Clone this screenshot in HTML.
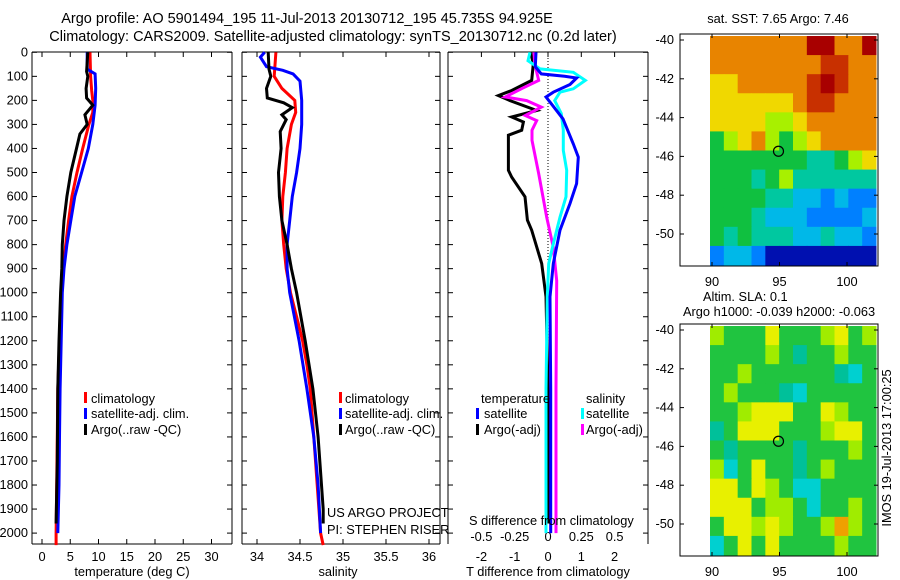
<!DOCTYPE html>
<html><head><meta charset="utf-8">
<style>
html,body{margin:0;padding:0;background:#fff;}
svg{display:block;font-family:"Liberation Sans",sans-serif;}
text{font-size:12.8px;fill:#000;}
</style></head>
<body>
<svg id="fig" width="900" height="580" viewBox="0 0 900 580" xmlns="http://www.w3.org/2000/svg">
<text x="307" y="23" text-anchor="middle" style="font-size:14.5px">Argo profile: AO 5901494_195 11-Jul-2013 20130712_195 45.735S 94.925E</text>
<text x="333" y="41" text-anchor="middle" style="font-size:14.5px">Climatology: CARS2009. Satellite-adjusted climatology: synTS_20130712.nc (0.2d later)</text>
<g id="g1"></g>
<g id="g2"></g>
<g id="g3"></g>
<g id="m1"></g>
<g id="m2"></g>

<g>
<rect x="84" y="392" width="3" height="11" fill="#f00"/><text x="91" y="403">climatology</text>
<rect x="84" y="408" width="3" height="11" fill="#00f"/><text x="91" y="418">satellite-adj. clim.</text>
<rect x="84" y="424" width="3" height="11" fill="#000"/><text x="91" y="434">Argo(..raw -QC)</text>
</g>
<g>
<rect x="339" y="392" width="3" height="11" fill="#f00"/><text x="345" y="403">climatology</text>
<rect x="339" y="408" width="3" height="11" fill="#00f"/><text x="345" y="418">satellite-adj. clim.</text>
<rect x="339" y="424" width="3" height="11" fill="#000"/><text x="345" y="434">Argo(..raw -QC)</text>
</g>
<g>
<text x="481" y="403">temperature</text>
<rect x="476" y="408" width="3" height="11" fill="#00f"/><text x="484" y="418">satellite</text>
<rect x="476" y="424" width="3" height="11" fill="#000"/><text x="484" y="434">Argo(-adj)</text>
<text x="586" y="403">salinity</text>
<rect x="581" y="408" width="3" height="11" fill="#0ff"/><text x="586" y="418">satellite</text>
<rect x="581" y="424" width="3" height="11" fill="#f0f"/><text x="586" y="434">Argo(-adj)</text>
</g>
<text x="327" y="517">US ARGO PROJECT</text>
<text x="327" y="534">PI: STEPHEN RISER</text>
<text x="469" y="525">S difference from climatology</text>
<text x="132" y="576" text-anchor="middle">temperature (deg C)</text>
<text x="338" y="576" text-anchor="middle">salinity</text>
<text x="548" y="576" text-anchor="middle">T difference from climatology</text>
<text x="778" y="23" text-anchor="middle">sat. SST: 7.65 Argo: 7.46</text>
<text x="703" y="301">Altim. SLA: 0.1</text>
<text x="683" y="316">Argo h1000: -0.039 h2000: -0.063</text>
<text transform="translate(891,448) rotate(-90)" text-anchor="middle">IMOS 19-Jul-2013 17:00:25</text>
</svg>
<script>
// ---- data ----
const depthTicks = [0,100,200,300,400,500,600,700,800,900,1000,1100,1200,1300,1400,1500,1600,1700,1800,1900,2000];
const tempTicks = [0,5,10,15,20,25,30];
const salTicks = [34,34.5,35,35.5,36];
const salTickLabels = ["34","34.5","35","35.5","36"];
const tdiffTicks = [-2,-1,0,1,2];
const sdiffTicks = [-0.5,-0.25,0,0.25,0.5];
const sdiffTickLabels = ["-0.5","-0.25","0","0.25","0.5"];

const climTDepth = [0,100,160,200,250,300,400,500,600,700,800,900,1000,1200,1400,1600,1800,2000,2050];
const climT = [8.5,8.6,8.8,9.0,9.0,8.3,7.2,6.2,5.3,4.7,4.2,3.8,3.5,3.1,2.8,2.7,2.6,2.5,2.5];
const satTDepth = [0,70,90,150,220,300,400,500,600,700,800,900,1000,1200,1400,1600,1800,2000];
const satT = [8.0,8.0,9.4,9.5,9.4,9.0,8.2,7.0,5.8,5.1,4.4,3.9,3.6,3.4,3.2,3.1,3.0,2.8];
const argoTDepth = [0,80,100,150,190,220,260,300,340,400,500,600,700,800,900,1000,1200,1400,1700,1960];
const argoT = [8.1,7.9,8.1,7.8,7.9,9.0,7.6,8.0,6.7,6.1,5.1,4.4,3.9,3.6,3.5,3.3,3.0,2.8,2.7,2.5];

const climSDepth = [0,100,150,200,250,300,400,500,600,700,800,900,1000,1100,1200,1300,1400,1600,1800,2000,2050];
const climS = [34.22,34.20,34.29,34.44,34.45,34.40,34.35,34.33,34.30,34.29,34.31,34.34,34.39,34.46,34.53,34.58,34.62,34.66,34.70,34.74,34.77];
const satSDepth = [0,20,60,75,90,120,200,300,400,500,600,700,800,900,1000,1200,1400,1600,1800,2000];
const satS = [34.09,34.04,34.11,34.30,34.42,34.50,34.52,34.52,34.50,34.46,34.41,34.38,34.35,34.35,34.38,34.49,34.58,34.66,34.71,34.74];
const argoSDepth = [0,70,100,150,190,210,230,260,280,330,400,500,600,700,800,900,1000,1200,1400,1600,1900,1960];
const argoS = [34.13,34.14,34.16,34.11,34.12,34.31,34.41,34.29,34.34,34.27,34.28,34.25,34.26,34.29,34.35,34.40,34.46,34.56,34.65,34.71,34.77,34.77];

const dTsatDepth = [0,60,90,100,107,134,166,186,207,277,381,436,546,629,740,879,1017,1400,1800,2000];
const dTsat = [-0.36,-0.38,-0.2,0.5,0.86,0.66,0.16,-0.06,0.06,0.45,0.76,0.91,0.86,0.66,0.36,0.16,0.06,0.08,0.08,0.08];
const dTargoDepth = [0,48,117,159,180,201,242,269,290,324,345,491,519,601,698,740,879,1017,1400,1960];
const dTargo = [-0.52,-0.44,-0.49,-1.09,-1.49,-1.14,-0.34,-1.09,-0.74,-0.79,-1.19,-1.19,-1.09,-0.69,-0.62,-0.49,-0.19,-0.06,0,0];
const dSargoDepth = [0,48,117,152,186,201,228,263,284,324,366,505,686,811,950,1400,2000];
const dSargo = [-0.105,-0.1,-0.07,-0.2,-0.32,-0.16,-0.05,-0.17,-0.085,-0.12,-0.12,-0.07,-0.01,0.04,0.065,0.06,0.06];
const dSsatDepth = [0,35,69,83,117,152,166,201,255,324,408,491,601,686,797,879,1017,1400,2000];
const dSsat = [-0.135,-0.15,-0.06,0.19,0.28,0.19,0.09,0.05,0.10,0.115,0.115,0.14,0.135,0.09,0.04,0.005,-0.005,-0.015,-0.015];

const latTicks = [-40,-42,-44,-46,-48,-50];
const lonTicks = [90,95,100];
const argoLon = 94.925, argoLat = -45.735;
const sstRows = [
"OOOOOOODDOOD","OOOOOOOORROO","YYOOOOORDROO","YYYYYYORROOO","YYYYLLYOOOOO","GLYOLGLYOOOO",
"GGGGGGGTTGLY","GGGTGLTTTTTT","GGGGTTCCBCBB","GGGTCCCBBBBC","GTGTTTCCTCCB","BCCBNNNNNNNN"];
const slaRows = [
"LGGGYGGGLYGL","GGGGLGTGGLGG","GGLGGGGGGTCG","GLGGGTCGGGGG","GGLYYYGGYLGG","TGYYYGGGLYYG",
"GTGGGGTGGGLG","LCGYGGTGLGGG","YYGYLGCCGGGG","YYYGLLGCGGLG","GYYLYLGGLOLG","CGYGYGGGGLGG"];

// ---- helpers ----
const NS="http://www.w3.org/2000/svg";
function mk(parent,tag,attrs){const e=document.createElementNS(NS,tag);for(const k in attrs)e.setAttribute(k,attrs[k]);parent.appendChild(e);return e;}
const yD = d => 52.3 + d*0.2404;
const xT = v => 42 + 5.65*v;
const xS = v => 257 + 86*(v-34);
const xDT = v => 548 + 33.3*v;
const xDS = v => 548 + 133.3*v;
const TOP=52, BOT=544;

function panel(g,x0,x1,bottomLine){
  mk(g,'line',{x1:x0,y1:TOP,x2:x1,y2:TOP,stroke:'#000'});
  mk(g,'line',{x1:x0,y1:TOP,x2:x0,y2:BOT,stroke:'#000'});
  mk(g,'line',{x1:x1,y1:TOP,x2:x1,y2:BOT,stroke:'#000'});
  if(bottomLine) mk(g,'line',{x1:x0,y1:BOT,x2:x1,y2:BOT,stroke:'#000'});
  depthTicks.forEach(d=>{
    mk(g,'line',{x1:x0,y1:yD(d),x2:x0+5,y2:yD(d),stroke:'#000'});
    mk(g,'line',{x1:x1,y1:yD(d),x2:x1-5,y2:yD(d),stroke:'#000'});
  });
}
function series(g,depths,vals,xf,color,name){
  const pts=depths.map((d,i)=>xf(vals[i]).toFixed(1)+','+yD(d).toFixed(1)).join(' ');
  const p=mk(g,'polyline',{points:pts,fill:'none',stroke:color,'stroke-width':3,'stroke-linejoin':'miter'});
  
  
}
function xticks(g,ticks,labels,xf,ty){
  ticks.forEach((t,i)=>{
    const x=xf(t);
    mk(g,'line',{x1:x,y1:TOP,x2:x,y2:TOP+5,stroke:'#000'});
    mk(g,'line',{x1:x,y1:BOT,x2:x,y2:BOT-5,stroke:'#000'});
    const tx=mk(g,'text',{x:x,y:ty,'text-anchor':'middle'});
    tx.textContent=labels?labels[i]:String(t);
    
    
  });
}

// panel 1
const g1=document.getElementById('g1');
panel(g1,32,232,true);
depthTicks.forEach(d=>{
  const t=mk(g1,'text',{x:28,y:yD(d)+4,'text-anchor':'end'});
  t.textContent=String(d);
  
  
});
xticks(g1,tempTicks,null,xT,561);
series(g1,climTDepth,climT,xT,'#f00','temp-climatology-line');
series(g1,satTDepth,satT,xT,'#00f','temp-satellite-line');
series(g1,argoTDepth,argoT,xT,'#000','temp-argo-line');

// panel 2
const g2=document.getElementById('g2');
panel(g2,242,440,true);
xticks(g2,salTicks,salTickLabels,xS,561);
series(g2,climSDepth,climS,xS,'#f00','sal-climatology-line');
series(g2,satSDepth,satS,xS,'#00f','sal-satellite-line');
series(g2,argoSDepth,argoS,xS,'#000','sal-argo-line');

// panel 3
const g3=document.getElementById('g3');
panel(g3,448,648,false);
tdiffTicks.forEach(t=>{const x=xDT(t);mk(g3,'line',{x1:x,y1:TOP,x2:x,y2:TOP+5,stroke:'#000'});
  const tx=mk(g3,'text',{x:x,y:561,'text-anchor':'middle'});tx.textContent=String(t);
  
  });
sdiffTicks.forEach((t,i)=>{const tx=mk(g3,'text',{x:xDS(t),y:541,'text-anchor':'middle'});tx.textContent=sdiffTickLabels[i];
  
  });
mk(g3,'line',{x1:xDT(0),y1:TOP,x2:xDT(0),y2:yD(1300),stroke:'#000','stroke-dasharray':'1,2'});
series(g3,dTargoDepth,dTargo,xDT,'#000','t-diff-argo-line');
series(g3,dSargoDepth,dSargo,xDS,'#f0f','s-diff-argo-line');
series(g3,dSsatDepth,dSsat,xDS,'#0ff','s-diff-satellite-line');
series(g3,dTsatDepth,dTsat,xDT,'#00f','t-diff-satellite-line');

// maps
const COL={D:'#a80000',R:'#c83000',O:'#e88400',Y:'#f0d800',L:'#a8f000',G:'#10c040',T:'#00c8a0',C:'#00b8e8',B:'#0080ff',N:'#0010b0',K:'#00008c'};
const COL2={D:'#a80000',R:'#c83000',O:'#f0a000',Y:'#e8f000',L:'#a0ec00',G:'#20c440',T:'#00c09a',C:'#00d0d0'};
function map(g,y0,rows,pal,lonY){
  const X0=680,X1=878,Y0=y0,Y1=y0+232;
  const lx=lon=>712+13.5*(lon-90), ly=lat=>Y0+6+19.4*(-40-lat);
  const dx0=710,dx1=876,dy0=Y0+2,dy1=Y1-1;
  const cw=(dx1-dx0)/12, ch=(dy1-dy0)/rows.length;
  rows.forEach((r,i)=>{for(let j=0;j<r.length;j++){
    const c=mk(g,'rect',{x:dx0+j*cw,y:dy0+i*ch,width:cw+0.5,height:ch+0.5,fill:pal[r[j]]});
    
    
  }});
  mk(g,'rect',{x:X0,y:Y0,width:X1-X0,height:Y1-Y0,fill:'none',stroke:'#000'});
  latTicks.forEach(l=>{const y=ly(l);
    mk(g,'line',{x1:X0,y1:y,x2:X0+4,y2:y,stroke:'#000'});mk(g,'line',{x1:X1,y1:y,x2:X1-4,y2:y,stroke:'#000'});
    const t=mk(g,'text',{x:674,y:y+4,'text-anchor':'end'});t.textContent=String(l);
    
    });
  lonTicks.forEach(l=>{const x=lx(l);
    mk(g,'line',{x1:x,y1:Y0,x2:x,y2:Y0+4,stroke:'#000'});mk(g,'line',{x1:x,y1:Y1,x2:x,y2:Y1-4,stroke:'#000'});
    const t=mk(g,'text',{x:x,y:lonY,'text-anchor':'middle'});t.textContent=String(l);
    
    });
  const c=mk(g,'circle',{cx:lx(argoLon),cy:ly(argoLat),r:5,fill:'none',stroke:'#000','stroke-width':1.2});
  
  
}
map(document.getElementById('m1'),34,sstRows,COL,286);
map(document.getElementById('m2'),324,slaRows,COL2,576);
</script>
</body></html>
